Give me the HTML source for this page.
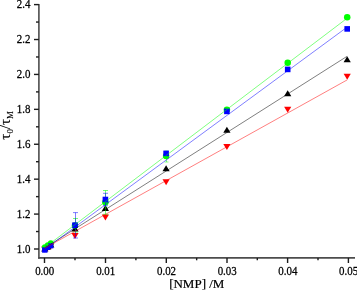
<!DOCTYPE html>
<html><head><meta charset="utf-8"><style>
html,body{margin:0;padding:0;background:#fff;width:357px;height:291px;overflow:hidden}
svg{display:block;will-change:transform}
.t{font-family:"Liberation Serif",serif;font-size:11.5px;fill:#000;stroke:#000;stroke-width:0.25px}
.a{font-family:"Liberation Serif",serif;font-size:12.5px;fill:#000}
</style></head><body>
<svg width="357" height="291" viewBox="0 0 357 291">
<rect width="357" height="291" fill="#fff"/>
<line x1="38.9" y1="3.9" x2="38.9" y2="258.65" stroke="#4c4c4c" stroke-width="1.6"/>
<line x1="38.15" y1="257.9" x2="355" y2="257.9" stroke="#4c4c4c" stroke-width="1.7"/>
<line x1="34" y1="249.00" x2="38.9" y2="249.00" stroke="#1c1c1c" stroke-width="1.4"/>
<line x1="36" y1="231.54" x2="38.9" y2="231.54" stroke="#1c1c1c" stroke-width="1.4"/>
<line x1="34" y1="214.09" x2="38.9" y2="214.09" stroke="#1c1c1c" stroke-width="1.4"/>
<line x1="36" y1="196.63" x2="38.9" y2="196.63" stroke="#1c1c1c" stroke-width="1.4"/>
<line x1="34" y1="179.17" x2="38.9" y2="179.17" stroke="#1c1c1c" stroke-width="1.4"/>
<line x1="36" y1="161.72" x2="38.9" y2="161.72" stroke="#1c1c1c" stroke-width="1.4"/>
<line x1="34" y1="144.26" x2="38.9" y2="144.26" stroke="#1c1c1c" stroke-width="1.4"/>
<line x1="36" y1="126.80" x2="38.9" y2="126.80" stroke="#1c1c1c" stroke-width="1.4"/>
<line x1="34" y1="109.34" x2="38.9" y2="109.34" stroke="#1c1c1c" stroke-width="1.4"/>
<line x1="36" y1="91.89" x2="38.9" y2="91.89" stroke="#1c1c1c" stroke-width="1.4"/>
<line x1="34" y1="74.43" x2="38.9" y2="74.43" stroke="#1c1c1c" stroke-width="1.4"/>
<line x1="36" y1="56.97" x2="38.9" y2="56.97" stroke="#1c1c1c" stroke-width="1.4"/>
<line x1="34" y1="39.52" x2="38.9" y2="39.52" stroke="#1c1c1c" stroke-width="1.4"/>
<line x1="36" y1="22.06" x2="38.9" y2="22.06" stroke="#1c1c1c" stroke-width="1.4"/>
<line x1="34" y1="4.60" x2="38.9" y2="4.60" stroke="#1c1c1c" stroke-width="1.4"/>
<line x1="44.50" y1="257.9" x2="44.50" y2="263" stroke="#1c1c1c" stroke-width="1.4"/>
<line x1="75.00" y1="257.9" x2="75.00" y2="260.3" stroke="#1c1c1c" stroke-width="1.4"/>
<line x1="105.50" y1="257.9" x2="105.50" y2="263" stroke="#1c1c1c" stroke-width="1.4"/>
<line x1="135.90" y1="257.9" x2="135.90" y2="260.3" stroke="#1c1c1c" stroke-width="1.4"/>
<line x1="166.30" y1="257.9" x2="166.30" y2="263" stroke="#1c1c1c" stroke-width="1.4"/>
<line x1="196.65" y1="257.9" x2="196.65" y2="260.3" stroke="#1c1c1c" stroke-width="1.4"/>
<line x1="227.00" y1="257.9" x2="227.00" y2="263" stroke="#1c1c1c" stroke-width="1.4"/>
<line x1="257.30" y1="257.9" x2="257.30" y2="260.3" stroke="#1c1c1c" stroke-width="1.4"/>
<line x1="287.60" y1="257.9" x2="287.60" y2="263" stroke="#1c1c1c" stroke-width="1.4"/>
<line x1="318.00" y1="257.9" x2="318.00" y2="260.3" stroke="#1c1c1c" stroke-width="1.4"/>
<line x1="348.40" y1="257.9" x2="348.40" y2="263" stroke="#1c1c1c" stroke-width="1.4"/>
<text transform="translate(30.5,252.70) scale(0.95,1)" text-anchor="end" class="t">1.0</text>
<text transform="translate(30.5,217.80) scale(0.95,1)" text-anchor="end" class="t">1.2</text>
<text transform="translate(30.5,182.90) scale(0.95,1)" text-anchor="end" class="t">1.4</text>
<text transform="translate(30.5,148.00) scale(0.95,1)" text-anchor="end" class="t">1.6</text>
<text transform="translate(30.5,113.10) scale(0.95,1)" text-anchor="end" class="t">1.8</text>
<text transform="translate(30.5,78.20) scale(0.95,1)" text-anchor="end" class="t">2.0</text>
<text transform="translate(30.5,43.30) scale(0.95,1)" text-anchor="end" class="t">2.2</text>
<text transform="translate(30.5,8.40) scale(0.95,1)" text-anchor="end" class="t">2.4</text>
<text transform="translate(44.70,275) scale(0.95,1)" text-anchor="middle" class="t">0.00</text>
<text transform="translate(105.70,275) scale(0.95,1)" text-anchor="middle" class="t">0.01</text>
<text transform="translate(166.50,275) scale(0.95,1)" text-anchor="middle" class="t">0.02</text>
<text transform="translate(227.20,275) scale(0.95,1)" text-anchor="middle" class="t">0.03</text>
<text transform="translate(287.80,275) scale(0.95,1)" text-anchor="middle" class="t">0.04</text>
<text transform="translate(348.60,275) scale(0.95,1)" text-anchor="middle" class="t">0.05</text>
<text x="196.8" y="288.3" text-anchor="middle" class="a" style="font-size:13px" stroke="#000" stroke-width="0.2">[NMP] /M</text>
<text transform="translate(9.6,125.4) rotate(-90)" text-anchor="middle" class="a" style="font-size:15px" stroke="#000" stroke-width="0.15">τ<tspan dy="3.5" font-size="8.8">0</tspan><tspan dy="-3.5">/τ</tspan><tspan dy="3.5" font-size="8.8">M</tspan></text>
<polygon points="41.20,246.50 48.40,246.50 44.80,252.50" fill="#ff0000"/>
<polygon points="44.20,245.00 51.40,245.00 47.80,251.00" fill="#ff0000"/>
<polygon points="47.20,243.50 54.40,243.50 50.80,249.50" fill="#ff0000"/>
<polygon points="71.40,233.00 78.60,233.00 75.00,239.00" fill="#ff0000"/>
<polygon points="101.80,214.60 109.00,214.60 105.40,220.60" fill="#ff0000"/>
<polygon points="162.50,179.20 169.70,179.20 166.10,185.20" fill="#ff0000"/>
<polygon points="223.30,143.90 230.50,143.90 226.90,149.90" fill="#ff0000"/>
<polygon points="284.10,106.70 291.30,106.70 287.70,112.70" fill="#ff0000"/>
<polygon points="343.60,73.80 350.80,73.80 347.20,79.80" fill="#ff0000"/>
<polygon points="41.20,251.50 48.40,251.50 44.80,245.50" fill="#000000"/>
<polygon points="44.20,249.50 51.40,249.50 47.80,243.50" fill="#000000"/>
<polygon points="47.20,247.50 54.40,247.50 50.80,241.50" fill="#000000"/>
<polygon points="71.40,231.60 78.60,231.60 75.00,225.60" fill="#000000"/>
<polygon points="101.80,210.90 109.00,210.90 105.40,204.90" fill="#000000"/>
<polygon points="162.50,171.20 169.70,171.20 166.10,165.20" fill="#000000"/>
<polygon points="223.30,132.80 230.50,132.80 226.90,126.80" fill="#000000"/>
<polygon points="284.10,96.30 291.30,96.30 287.70,90.30" fill="#000000"/>
<polygon points="343.60,62.20 350.80,62.20 347.20,56.20" fill="#000000"/>
<g stroke="#00ff00" stroke-opacity="0.55" stroke-width="1"><line x1="75.50" y1="218.50" x2="75.50" y2="232.00"/><line x1="73.00" y1="218.50" x2="78.00" y2="218.50"/><line x1="73.00" y1="232.00" x2="78.00" y2="232.00"/></g>
<g stroke="#00ff00" stroke-opacity="0.55" stroke-width="1"><line x1="105.50" y1="190.50" x2="105.50" y2="214.30"/><line x1="103.00" y1="190.50" x2="108.00" y2="190.50"/><line x1="103.00" y1="214.30" x2="108.00" y2="214.30"/></g>
<g stroke="#00ff00" stroke-opacity="0.45" stroke-width="1"><line x1="166.50" y1="151.00" x2="166.50" y2="162.00"/><line x1="164.50" y1="151.00" x2="168.50" y2="151.00"/><line x1="164.50" y1="162.00" x2="168.50" y2="162.00"/></g>
<circle cx="44.80" cy="247.30" r="3.0" fill="#00ff00"/>
<circle cx="47.80" cy="245.30" r="3.0" fill="#00ff00"/>
<circle cx="50.80" cy="243.20" r="3.0" fill="#00ff00"/>
<circle cx="75.00" cy="225.40" r="3.25" fill="#00ff00"/>
<circle cx="105.40" cy="202.20" r="3.25" fill="#00ff00"/>
<circle cx="166.10" cy="156.00" r="3.25" fill="#00ff00"/>
<circle cx="226.90" cy="109.70" r="3.25" fill="#00ff00"/>
<circle cx="287.70" cy="62.80" r="3.25" fill="#00ff00"/>
<circle cx="347.20" cy="17.30" r="3.25" fill="#00ff00"/>
<rect x="42.10" y="247.30" width="5.4" height="5.4" fill="#0000ff"/>
<rect x="45.60" y="245.60" width="4.4" height="4.4" fill="#0000ff"/>
<rect x="48.20" y="243.20" width="5.2" height="5.2" fill="#0000ff"/>
<rect x="72.20" y="222.40" width="5.6" height="5.6" fill="#0000ff"/>
<rect x="102.60" y="196.70" width="5.6" height="5.6" fill="#0000ff"/>
<rect x="163.30" y="150.60" width="5.6" height="5.6" fill="#0000ff"/>
<rect x="224.10" y="108.60" width="5.6" height="5.6" fill="#0000ff"/>
<rect x="284.90" y="66.60" width="5.6" height="5.6" fill="#0000ff"/>
<rect x="344.40" y="26.10" width="5.6" height="5.6" fill="#0000ff"/>
<g stroke="#0000ff" stroke-opacity="0.5" stroke-width="1"><line x1="75.50" y1="212.60" x2="75.50" y2="238.00"/><line x1="73.00" y1="212.60" x2="78.00" y2="212.60"/><line x1="73.00" y1="238.00" x2="78.00" y2="238.00"/></g>
<g stroke="#0000ff" stroke-opacity="0.5" stroke-width="1"><line x1="105.50" y1="193.30" x2="105.50" y2="205.70"/><line x1="103.00" y1="193.30" x2="108.00" y2="193.30"/><line x1="103.00" y1="205.70" x2="108.00" y2="205.70"/></g>
<line x1="44.5" y1="248.17" x2="347.1" y2="56.31" stroke="#000000" stroke-width="1" stroke-opacity="0.5"/>
<line x1="44.5" y1="247.77" x2="347.1" y2="18.24" stroke="#00ff00" stroke-width="1" stroke-opacity="0.5"/>
<line x1="44.5" y1="249.46" x2="347.1" y2="27.16" stroke="#0000ff" stroke-width="1" stroke-opacity="0.5"/>
<line x1="44.5" y1="248.31" x2="347.1" y2="79.95" stroke="#ff0000" stroke-width="1" stroke-opacity="0.5"/>
</svg>
</body></html>
